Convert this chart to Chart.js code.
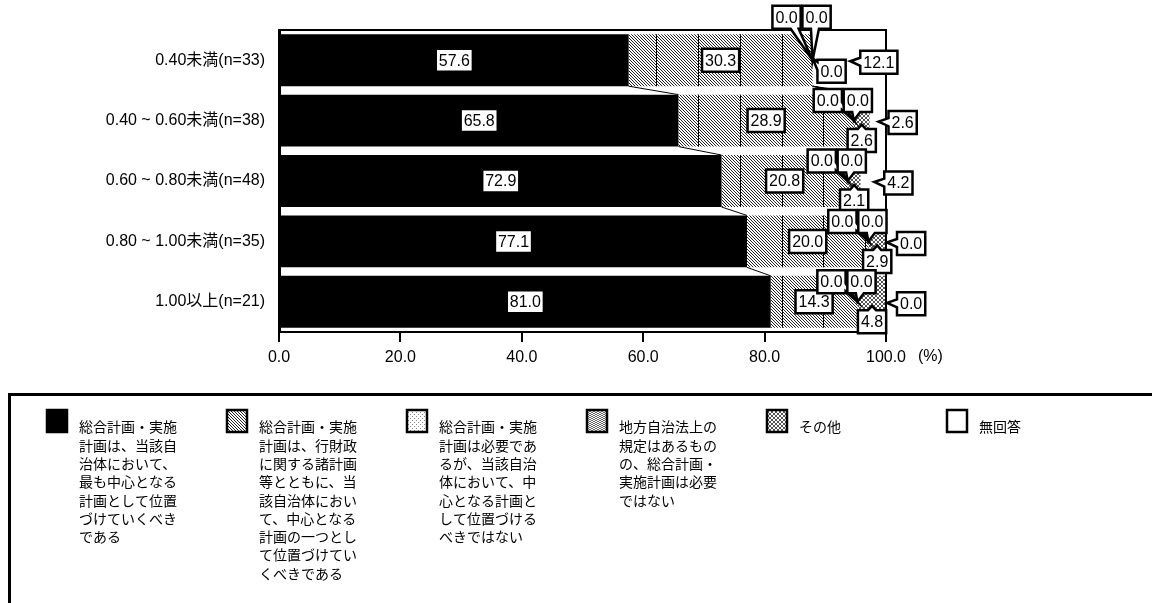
<!DOCTYPE html>
<html>
<head>
<meta charset="utf-8">
<script src="https://cdn.jsdelivr.net/npm/chart.js@4.4.1/dist/chart.umd.min.js"></script>
<style>
  html, body { margin: 0; padding: 0; background: #fff; }
  canvas { display: block; }
</style>
</head>
<body>
<canvas id="myChart" width="1152" height="603"></canvas>
<script>
const categories = ['0.40未満(n=33)', '0.40 ~ 0.60未満(n=38)', '0.60 ~ 0.80未満(n=48)', '0.80 ~ 1.00未満(n=35)', '1.00以上(n=21)'];
const seriesNames = [
    '総合計画・実施計画は、当該自治体において、最も中心となる計画として位置づけていくべきである',
    '総合計画・実施計画は、行財政に関する諸計画等とともに、当該自治体において、中心となる計画の一つとして位置づけていくべきである',
    '総合計画・実施計画は必要であるが、当該自治体において、中心となる計画として位置づけるべきではない',
    '地方自治法上の規定はあるものの、総合計画・実施計画は必要ではない',
    'その他',
    '無回答'
];
const mostCentral = [57.6, 65.8, 72.9, 77.1, 81.0];
const oneOfCentral = [30.3, 28.9, 20.8, 20.0, 14.3];
const notCentral = [0.0, 0.0, 0.0, 0.0, 0.0];
const notNeeded = [0.0, 0.0, 0.0, 0.0, 0.0];
const other = [0.0, 2.6, 2.1, 2.9, 4.8];
const noAnswer = [12.1, 2.6, 4.2, 0.0, 0.0];
const xTicks = [0, 20, 40, 60, 80, 100];

const FONT = '"Liberation Sans", Arial, "Noto Sans CJK JP", sans-serif';

function makePattern(size, bg, fg, pixels) {
    const c = document.createElement('canvas');
    c.width = size; c.height = size;
    const g = c.getContext('2d');
    g.fillStyle = bg;
    g.fillRect(0, 0, size, size);
    g.fillStyle = fg;
    pixels.forEach(([x, y]) => g.fillRect(x, y, 1, 1));
    return g.createPattern(c, 'repeat');
}

const diagHatch = makePattern(3, '#ffffff', '#222222', [[0, 0], [1, 1], [2, 2]]);
const lightDots = makePattern(4, '#ffffff', '#888888', [[0, 0], [2, 2]]);
const wavy = makePattern(4, '#ffffff', '#666666', [[0, 0], [1, 1], [2, 1], [3, 0], [0, 2], [1, 3], [2, 3], [3, 2]]);
const crossHatch = makePattern(4, '#ffffff', '#555555', [[0, 0], [1, 1], [2, 2], [3, 3], [3, 0], [2, 1], [1, 2], [0, 3]]);

const fills = ['#000000', diagHatch, lightDots, wavy, crossHatch, '#ffffff'];
const values = [mostCentral, oneOfCentral, notCentral, notNeeded, other, noAnswer];

const data = {
    labels: categories,
    datasets: values.map((v, i) => ({
        label: seriesNames[i],
        data: v,
        backgroundColor: fills[i],
        borderWidth: 0,
        categoryPercentage: 0.86,
        barPercentage: 1.0
    }))
};

function calloutPath(ctx, l, t, w, h, tx, ty) {
    const r = l + w, b = t + h, cx = l + w / 2, cy = t + h / 2;
    const dx = tx - cx, dy = ty - cy;
    const inside = tx >= l && tx <= r && ty >= t && ty <= b;
    const hw = 4;
    let side = null;
    if (!inside) {
        if (Math.abs(dy) * w > Math.abs(dx) * h) side = dy < 0 ? 'top' : 'bottom';
        else side = dx < 0 ? 'left' : 'right';
    }
    const clamp = (v, a, z) => Math.max(a, Math.min(z, v));
    const bx = clamp(cx + dx * 0.4, l + hw + 2, r - hw - 2);
    const by = clamp(cy + dy * 0.4, t + hw + 2, b - hw - 2);
    ctx.beginPath();
    ctx.moveTo(l, t);
    if (side === 'top') { ctx.lineTo(bx - hw, t); ctx.lineTo(tx, ty); ctx.lineTo(bx + hw, t); }
    ctx.lineTo(r, t);
    if (side === 'right') { ctx.lineTo(r, by - hw); ctx.lineTo(tx, ty); ctx.lineTo(r, by + hw); }
    ctx.lineTo(r, b);
    if (side === 'bottom') { ctx.lineTo(bx + hw, b); ctx.lineTo(tx, ty); ctx.lineTo(bx - hw, b); }
    ctx.lineTo(l, b);
    if (side === 'left') { ctx.lineTo(l, by + hw); ctx.lineTo(tx, ty); ctx.lineTo(l, by - hw); }
    ctx.closePath();
}

function drawBox(ctx, text, cx, cy, tip, alignLeft) {
    ctx.font = '16px ' + FONT;
    const w = ctx.measureText(text).width + 6, h = 23;
    if (alignLeft) cx = cx + w / 2;
    const l = cx - w / 2, t = cy - h / 2;
    if (tip) calloutPath(ctx, l, t, w, h, tip[0], tip[1]);
    else { ctx.beginPath(); ctx.rect(l, t, w, h); }
    ctx.fillStyle = '#fff';
    ctx.fill();
    ctx.lineWidth = 2.5;
    ctx.lineJoin = 'miter';
    ctx.strokeStyle = '#000';
    ctx.stroke();
    ctx.fillStyle = '#000';
    ctx.textAlign = 'center';
    ctx.textBaseline = 'middle';
    ctx.fillText(text, cx, cy + 1);
}

const minorStep = 6.9;

const decorPlugin = {
    id: 'decor',
    afterDatasetsDraw(chart) {
        const ctx = chart.ctx;
        const area = chart.chartArea;
        const xs = chart.scales.x;
        ctx.save();
        ctx.strokeStyle = '#000';
        ctx.lineWidth = 1;
        // thin vertical lines showing through the hatched segments
        chart.getDatasetMeta(1).data.forEach(el => {
            const p = el.getProps(['x', 'base', 'y', 'height'], true);
            for (let v = minorStep; v < 100; v += minorStep) {
                const px = Math.round(xs.getPixelForValue(v)) + 0.5;
                if (px > p.base + 1 && px < p.x - 1) {
                    ctx.beginPath();
                    ctx.moveTo(px, p.y - p.height / 2);
                    ctx.lineTo(px, p.y + p.height / 2);
                    ctx.stroke();
                }
            }
        });
        // series lines between bars
        for (let k = 0; k < 5; k++) {
            const els = chart.getDatasetMeta(k).data;
            for (let j = 0; j < els.length - 1; j++) {
                const a = els[j].getProps(['x', 'y', 'height'], true);
                const b = els[j + 1].getProps(['x', 'y', 'height'], true);
                ctx.beginPath();
                ctx.moveTo(a.x, a.y + a.height / 2);
                ctx.lineTo(b.x, b.y - b.height / 2);
                ctx.stroke();
            }
        }
        // plot frame
        ctx.lineWidth = 2;
        ctx.strokeRect(area.left, area.top, area.right - area.left, area.bottom - area.top);
        ctx.restore();
    },
    afterDraw(chart) {
        const ctx = chart.ctx;
        const area = chart.chartArea;
        const xs = chart.scales.x;
        ctx.save();

        // value labels and callouts
        const n = categories.length;
        for (let j = 0; j < n; j++) {
            const els = values.map((_, k) => chart.getDatasetMeta(k).data[j].getProps(['x', 'base', 'y', 'height'], true));
            const yc = els[0].y;
            const txt = k => values[k][j].toFixed(1);
            drawBox(ctx, txt(0), (els[0].x + els[0].base) / 2, yc, null);
            drawBox(ctx, txt(1), (els[1].x + els[1].base) / 2, yc, null);
            const anchor = [els[2].base, yc];
            const up = j === 0 ? 43 : 20;
            drawBox(ctx, txt(2), anchor[0] - 26, yc - up, anchor);
            drawBox(ctx, txt(3), anchor[0] + 4, yc - up, anchor);
            const oMid = Math.min((els[4].x + els[4].base) / 2, area.right);
            if (j === 0) drawBox(ctx, txt(4), oMid + 19, yc + 11, [oMid, yc - 2]);
            else drawBox(ctx, txt(4), oMid, yc + 20, [oMid, yc + 4]);
            const nMid = Math.min((els[5].x + els[5].base) / 2, area.right);
            drawBox(ctx, txt(5), nMid + 11, yc + 2, [nMid + 1, yc + 1], true);
        }

        // unit after the last tick
        ctx.font = '16px ' + FONT;
        ctx.fillStyle = '#000';
        ctx.textAlign = 'left';
        ctx.textBaseline = 'middle';
        ctx.fillText('(%)', xs.getPixelForValue(100) + 32, 357);

        // legend box
        ctx.lineWidth = 3;
        ctx.strokeStyle = '#000';
        ctx.beginPath();
        ctx.moveTo(9.5, 640);
        ctx.lineTo(9.5, 394.5);
        ctx.lineTo(1160, 394.5);
        ctx.stroke();

        chart.data.datasets.forEach((ds, i) => {
            const sx = 47 + i * 180, sy = 410;
            ctx.fillStyle = ds.backgroundColor;
            ctx.fillRect(sx, sy, 20, 22);
            ctx.lineWidth = 2.5;
            ctx.strokeRect(sx, sy, 20, 22);
            ctx.fillStyle = '#000';
            ctx.font = '14px "Noto Sans CJK JP", sans-serif';
            ctx.textAlign = 'left';
            ctx.textBaseline = 'middle';
            const chars = Array.from(ds.label);
            for (let l = 0; l * 7 < chars.length; l++) {
                ctx.fillText(chars.slice(l * 7, l * 7 + 7).join(''), sx + 32, 427 + l * 18.3);
            }
        });
        ctx.restore();
    }
};

const options = {
    responsive: false,
    animation: false,
    indexAxis: 'y',
    layout: {
        padding: { top: 30, right: 266, bottom: 231, left: 0 }
    },
    scales: {
        x: {
            stacked: true,
            min: 0,
            max: 100,
            afterBuildTicks: scale => { scale.ticks = xTicks.map(v => ({ value: v })); },
            afterFit: scale => { scale.height = 40; },
            grid: {
                drawOnChartArea: false,
                drawTicks: true,
                tickLength: 10,
                color: '#000',
                lineWidth: 2
            },
            border: { color: '#000', width: 2 },
            ticks: {
                color: '#000',
                padding: 6,
                maxRotation: 0,
                font: { family: FONT, size: 16 },
                callback: v => Number(v).toFixed(1)
            }
        },
        y: {
            stacked: true,
            afterFit: scale => { scale.width = 279; },
            grid: { display: false, drawTicks: false },
            border: { color: '#000', width: 3 },
            ticks: {
                color: '#000',
                padding: 14,
                font: { family: FONT, size: 16 }
            }
        }
    },
    plugins: {
        legend: { display: false },
        tooltip: { enabled: false }
    }
};

const ctx = document.getElementById('myChart').getContext('2d');
const myChart = new Chart(ctx, {
    type: 'bar',
    data: data,
    options: options,
    plugins: [decorPlugin]
});
</script>
</body>
</html>
